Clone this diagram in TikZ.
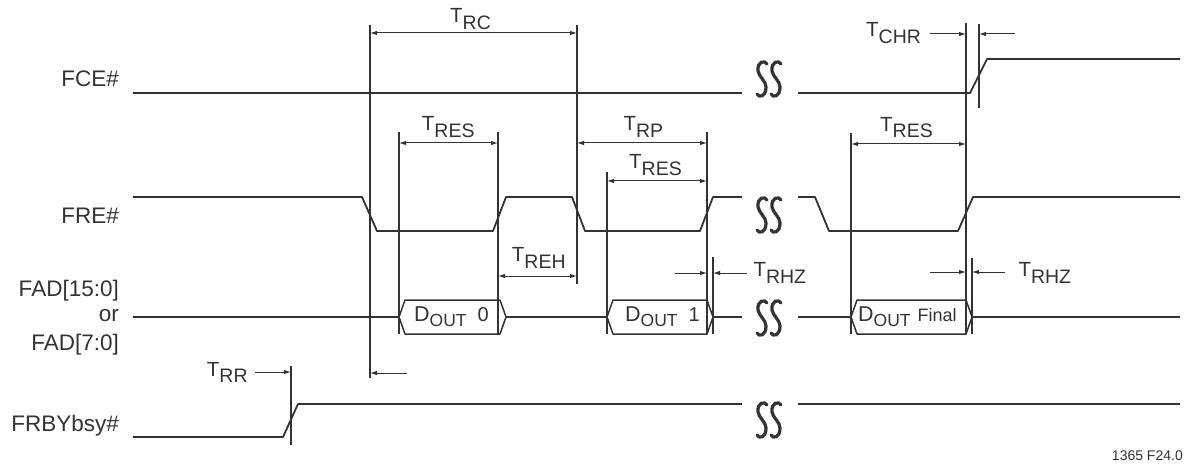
\documentclass[tikz,border=0pt]{standalone}
\usepackage{fontspec}
\setmainfont{Liberation Sans}
\usetikzlibrary{arrows.meta}
\definecolor{ink}{HTML}{333333}
\newcommand{\Tl}[1]{T\raisebox{-6.5pt}{\fontsize{19.5}{21}\selectfont #1}}
\newcommand{\Dl}[1]{D\raisebox{-5pt}{\fontsize{17.5}{18}\selectfont OUT}\hspace{11pt}{\fontsize{20}{20}\selectfont #1}}
\tikzset{
  sig/.style={line width=1.8pt, draw=ink, line join=round},
  busbox/.style={line width=1.5pt, draw=ink, line join=round},
  vline/.style={line width=1.3pt, draw=ink},
  dimarr/.style={line width=1pt, draw=ink, {Latex[length=7pt,width=4.5pt]}-{Latex[length=7pt,width=4.5pt]}},
  onearr/.style={line width=1pt, draw=ink, -{Latex[length=7pt,width=4.5pt]}},
  lbl/.style={font=\fontsize{22.5}{24}\selectfont, text=ink, inner sep=0pt},
  tlbl/.style={font=\fontsize{20.5}{24}\selectfont, text=ink, inner sep=0pt, anchor=base west},
  dlbl/.style={font=\fontsize{21.5}{24}\selectfont, text=ink, inner sep=0pt, anchor=base west},
  brk/.pic={
    \foreach \dx in {-7,7}{
      \draw[ink, line width=3.2pt, line cap=round]
        (\dx+5,-15) .. controls (\dx+3,-19) and (\dx-5,-18) .. (\dx-4,-8)
        .. controls (\dx-3,-2) and (\dx+4,2) .. (\dx+4,8)
        .. controls (\dx+4,18) and (\dx-3,19) .. (\dx-5,15);
    }
  }
}
\begin{document}
\begin{tikzpicture}[x=1pt,y=-1pt]
\useasboundingbox (0,0) rectangle (1190,465);

% signal names
\node[lbl,anchor=base east] (fce) at (119,86.7) {FCE\#};
\node[lbl,anchor=base east] (fre) at (119,223) {FRE\#};
\node[lbl,anchor=base east] (fad1) at (119,296.5) {FAD[15:0]};
\node[lbl,anchor=base east] (or) at (119,321) {or};
\node[lbl,anchor=base east] (fad2) at (119,350) {FAD[7:0]};
\node[lbl,anchor=base east] (frby) at (119,431) {FRBYbsy\#};

% waveforms
\draw[sig] (133,93) -- (742,93);
\draw[sig] (798,93) -- (970,93) -- (987,59) -- (1180,59);
\draw[sig] (133,197) -- (362,197) -- (377,231) -- (493,231) -- (506,197) -- (572,197) -- (585,231) -- (700,231) -- (713,197) -- (742,197);
\draw[sig] (798,197) -- (815,197) -- (829,231) -- (958,231) -- (973,197) -- (1180,197);
\draw[sig] (133,317) -- (399,317);
\draw[sig] (506,317) -- (607,317);
\draw[sig] (713,317) -- (742,317);
\draw[sig] (798,317) -- (851,317);
\draw[sig] (972,317) -- (1180,317);
\draw[busbox] (399,317) -- (405,300) -- (500,300) -- (506,317) -- (500,334) -- (405,334) -- cycle;
\draw[busbox] (607,317) -- (613,300) -- (707,300) -- (713,317) -- (707,334) -- (613,334) -- cycle;
\draw[busbox] (851,317) -- (857,300) -- (966,300) -- (972,317) -- (966,334) -- (857,334) -- cycle;
\draw[sig] (133,437) -- (283,437) -- (298,404) -- (742,404);
\draw[sig] (798,404) -- (1180,404);

% break symbols
\pic at (769,79) {brk};
\pic at (769,215) {brk};
\pic at (769,318) {brk};
\pic at (769,420) {brk};

% bus labels
\node[dlbl] (d0) at (414,321.7) {\Dl{0}};
\node[dlbl] (d1) at (625,321.7) {\Dl{1}};
\node[dlbl] (df) at (858,321.7) {D\raisebox{-5pt}{\fontsize{17.5}{18}\selectfont OUT}\hspace{7pt}{\fontsize{18}{18}\selectfont Final}};

% vertical timing lines
\coordinate (a1) at (370,25);  \coordinate (a2) at (370,378);
\coordinate (b1) at (577,25);  \coordinate (b2) at (577,284);
\coordinate (c1) at (399,132); \coordinate (c2) at (399,334);
\coordinate (e1) at (498,132); \coordinate (e2) at (498,334);
\coordinate (f1) at (707,132); \coordinate (f2) at (707,334);
\coordinate (g1) at (607,172); \coordinate (g2) at (607,334);
\coordinate (h1) at (713,257); \coordinate (h2) at (713,334);
\coordinate (i1) at (966,23);  \coordinate (i2) at (966,334);
\coordinate (j1) at (979,24);  \coordinate (j2) at (979,108);
\coordinate (k1) at (851,133); \coordinate (k2) at (851,334);
\coordinate (l1) at (972,258); \coordinate (l2) at (972,334);
\coordinate (m1) at (291,366); \coordinate (m2) at (291,445);
\foreach \p in {a,b,c,e,f,g,h,i,j,k,l,m} \draw[vline] (\p1) -- (\p2);

% dimension arrows
\draw[dimarr] (370,33) -- (577,33);
\draw[dimarr] (399,143) -- (498,143);
\draw[dimarr] (577,143) -- (707,143);
\draw[dimarr] (607,181) -- (707,181);
\draw[dimarr] (498,276) -- (577,276);
\draw[dimarr] (851,144) -- (966,144);
\draw[onearr] (675,273) -- (707,273);
\draw[onearr] (747,273) -- (713,273);
\draw[onearr] (930,34) -- (966,34);
\draw[onearr] (1015,34) -- (979,34);
\draw[onearr] (930,272) -- (966,272);
\draw[onearr] (1005,272) -- (972,272);
\draw[onearr] (255,372) -- (291,372);
\draw[onearr] (407,373) -- (370,373);

% timing labels
\node[tlbl] (trc) at (450,22.7) {\Tl{RC}};
\node[tlbl] (tres1) at (421.7,131) {\Tl{RES}};
\node[tlbl] (trp) at (623.3,131) {\Tl{RP}};
\node[tlbl] (tres2) at (629,168.5) {\Tl{RES}};
\node[tlbl] (treh) at (511.7,261.7) {\Tl{REH}};
\node[tlbl] (trhz1) at (753.3,276.7) {\Tl{RHZ}};
\node[tlbl] (trhz2) at (1018.3,276.7) {\Tl{RHZ}};
\node[tlbl] (tchr) at (866,37) {\Tl{CHR}};
\node[tlbl] (tres3) at (880,131.5) {\Tl{RES}};
\node[tlbl] (trr) at (206.7,376) {\Tl{RR}};

% figure id
\node[font=\fontsize{14}{16}\selectfont, text=ink, inner sep=0pt, anchor=base east] (fig) at (1183,460) {1365 F24.0};
\end{tikzpicture}
\end{document}
